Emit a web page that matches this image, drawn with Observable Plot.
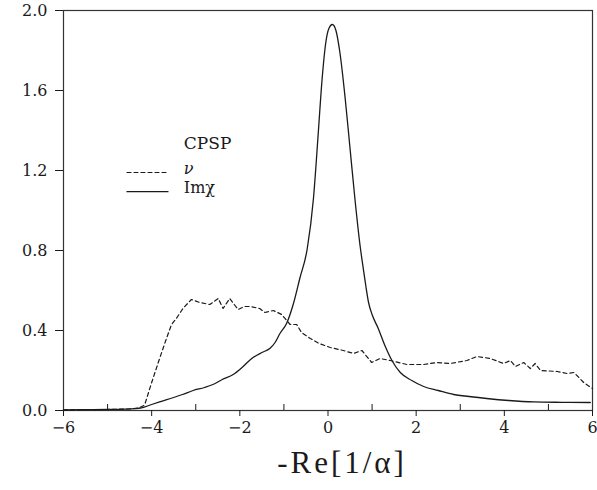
<!DOCTYPE html>
<html>
<head>
<meta charset="utf-8">
<script src="https://cdn.jsdelivr.net/npm/d3@7"></script>
<script src="https://cdn.jsdelivr.net/npm/@observablehq/plot@0.6"></script>
<style>
  html, body { margin: 0; padding: 0; background: #fff; }
</style>
</head>
<body>
<div id="chart"></div>
<script>
// Imχ (solid curve)
const chiX = [-6, -5.5, -5, -4.6, -4.4, -4.23, -4.0, -3.82, -3.5, -3.3, -3.06, -2.8, -2.61, -2.4, -2.15, -1.95, -1.73, -1.5, -1.32, -1.2, -1.09, -0.94, -0.79, -0.64, -0.47, -0.33, -0.22, -0.14, -0.05, 0.02, 0.1, 0.18, 0.27, 0.39, 0.5, 0.61, 0.73, 0.8, 0.86, 0.92, 1.0, 1.14, 1.3, 1.45, 1.64, 1.9, 2.17, 2.5, 2.85, 3.2, 3.6, 4.1, 4.67, 5.3, 5.95];
const chiY = [0.003, 0.004, 0.005, 0.007, 0.009, 0.013, 0.03, 0.043, 0.065, 0.08, 0.10, 0.115, 0.13, 0.155, 0.18, 0.215, 0.26, 0.29, 0.31, 0.34, 0.385, 0.435, 0.53, 0.66, 0.81, 1.06, 1.39, 1.64, 1.84, 1.91, 1.93, 1.9, 1.79, 1.56, 1.31, 1.06, 0.82, 0.71, 0.62, 0.54, 0.48, 0.41, 0.32, 0.25, 0.19, 0.15, 0.12, 0.10, 0.08, 0.07, 0.06, 0.05, 0.043, 0.041, 0.04];

// ν (dashed curve)
const nuX = [-6, -5, -4.5, -4.3, -4.16, -4.0, -3.82, -3.68, -3.55, -3.44, -3.29, -3.1, -2.91, -2.68, -2.49, -2.38, -2.23, -2.04, -1.9, -1.77, -1.55, -1.43, -1.24, -1.05, -0.86, -0.71, -0.6, -0.4, -0.2, 0.05, 0.35, 0.58, 0.77, 0.99, 1.18, 1.41, 1.79, 2.17, 2.47, 2.77, 3.15, 3.38, 3.68, 3.98, 4.14, 4.25, 4.44, 4.59, 4.7, 4.82, 5.2, 5.42, 5.58, 5.8, 6.0];
const nuY = [0.003, 0.005, 0.008, 0.012, 0.027, 0.14, 0.26, 0.35, 0.43, 0.46, 0.51, 0.555, 0.54, 0.53, 0.56, 0.51, 0.56, 0.505, 0.52, 0.52, 0.51, 0.49, 0.50, 0.48, 0.43, 0.43, 0.39, 0.36, 0.335, 0.315, 0.30, 0.285, 0.30, 0.24, 0.26, 0.25, 0.23, 0.23, 0.24, 0.235, 0.25, 0.27, 0.26, 0.235, 0.25, 0.22, 0.24, 0.21, 0.235, 0.2, 0.195, 0.185, 0.19, 0.14, 0.11];

const xMajorTicks = [-6, -4, -2, 0, 2, 4, 6];
const xMinorTicks = [-5, -3, -1, 1, 3, 5];
const yTicks = [0, 0.4, 0.8, 1.2, 1.6, 2.0];
const legendTitle = "CPSP";
const seriesNames = ["ν", "Imχ"];
const xLabel = "-Re[1/α]";

const chi = chiX.map((x, i) => ({x, y: chiY[i]}));
const nu = nuX.map((x, i) => ({x, y: nuY[i]}));

const ink = "#1a1a1a";
const serif = "'DejaVu Serif', 'Liberation Serif', serif";
const times = "'Liberation Serif', 'DejaVu Serif', serif";

const plot = Plot.plot({
  width: 597,
  height: 490,
  marginLeft: 63,
  marginRight: 5,
  marginTop: 10,
  marginBottom: 80,
  style: {fontFamily: serif, fontSize: "16px", background: "#fff", color: ink},
  x: {domain: [-6, 6]},
  y: {domain: [0, 2]},
  marks: [
    Plot.frame({stroke: "#333", strokeWidth: 1.2}),
    Plot.axisY(yTicks, {tickSize: 8, tickPadding: 8, tickFormat: d3.format(".1f"), label: null, stroke: ink, fontFamily: serif, fontSize: 16}),
    Plot.axisX(xMajorTicks, {tickSize: 6, tickPadding: 5, tickFormat: d => d < 0 ? "−" + Math.abs(d) : String(d), label: null, stroke: ink, fontFamily: serif, fontSize: 16}),
    Plot.ruleX(xMinorTicks, {x: d => d, y1: 0, y2: 0.03, stroke: ink}),
    Plot.line(nu, {x: "x", y: "y", stroke: ink, strokeWidth: 1.2, strokeDasharray: "4,3"}),
    Plot.line(chi, {x: "x", y: "y", stroke: ink, strokeWidth: 1.3, curve: "monotone-x"}),
    // legend
    Plot.text([legendTitle], {x: -3.27, y: 1.31, text: d => d, textAnchor: "start", lineAnchor: "bottom", fontSize: 17, fontFamily: serif, fill: ink}),
    Plot.line([{x: -4.56, y: 1.19}, {x: -3.63, y: 1.19}], {x: "x", y: "y", stroke: ink, strokeWidth: 1.2, strokeDasharray: "4,3"}),
    Plot.line([{x: -4.56, y: 1.094}, {x: -3.63, y: 1.094}], {x: "x", y: "y", stroke: ink, strokeWidth: 1.3}),
    Plot.text([seriesNames[0]], {x: -3.27, y: 1.183, text: d => d, textAnchor: "start", lineAnchor: "bottom", fontSize: 16, fontStyle: "italic", fontFamily: serif, fill: ink}),
    Plot.text([seriesNames[1]], {x: -3.27, y: 1.087, text: d => d, textAnchor: "start", lineAnchor: "bottom", fontSize: 16, fontFamily: serif, fill: ink}),
    // x-axis title
    Plot.text([xLabel], {frameAnchor: "bottom", text: d => d, dx: 14, dy: 62, lineAnchor: "bottom", fontSize: 31, fontFamily: times, fill: ink})
  ]
});

d3.select(plot).selectAll("text").filter(function() { return this.textContent === xLabel; }).attr("letter-spacing", "3px");

document.getElementById("chart").appendChild(plot);
</script>
</body>
</html>
